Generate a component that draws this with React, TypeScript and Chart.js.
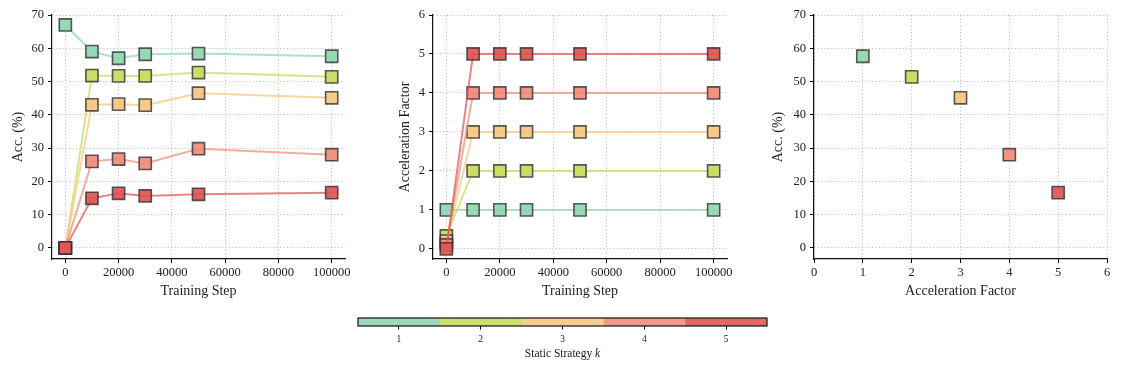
import React, { useEffect, useRef } from "react";
import { Chart, registerables } from "chart.js";

Chart.register(...registerables);

// ---------------- data ----------------
const kValues = [1, 2, 3, 4, 5];
const steps = [0, 10000, 20000, 30000, 50000, 100000];
const accK1 = [67, 59, 57, 58.2, 58.4, 57.6];
const accK2 = [0, 51.8, 51.7, 51.7, 52.7, 51.4];
const accK3 = [0, 43, 43.2, 42.9, 46.5, 45.1];
const accK4 = [0, 26, 26.7, 25.4, 29.8, 28];
const accK5 = [0, 14.9, 16.4, 15.6, 16.1, 16.6];
const accelK1 = [1, 1, 1, 1, 1, 1];
const accelK2 = [0.33, 2, 2, 2, 2, 2];
const accelK3 = [0.2, 3, 3, 3, 3, 3];
const accelK4 = [0.1, 4, 4, 4, 4, 4];
const accelK5 = [0, 5, 5, 5, 5, 5];
const finalAccel = [1, 2, 3, 4, 5];
const finalAcc = [57.6, 51.4, 45.1, 28, 16.6];
const stepTicks = [0, 20000, 40000, 60000, 80000, 100000];
const accTicks = [0, 10, 20, 30, 40, 50, 60, 70];
const accelTicks = [0, 1, 2, 3, 4, 5, 6];
const colors = ["#8fd6b0", "#c5dc5c", "#f5c67e", "#ef8c78", "#e05252"];

const accSeries = [accK1, accK2, accK3, accK4, accK5];
const accelSeries = [accelK1, accelK2, accelK3, accelK4, accelK5];

// ---------------- helpers ----------------
const SERIF = "'Liberation Serif', 'Times New Roman', serif";

function rgba(hex: string, a: number) {
  const n = parseInt(hex.slice(1), 16);
  return `rgba(${(n >> 16) & 255},${(n >> 8) & 255},${n & 255},${a})`;
}

function axis(opts: {
  min: number;
  max: number;
  ticks: number[];
  title: string;
  size: number;
  isY: boolean;
  titlePad: number;
}) {
  return {
    type: "linear",
    min: opts.min,
    max: opts.max,
    afterBuildTicks: (s: any) => {
      s.ticks = opts.ticks.map((v) => ({ value: v }));
    },
    afterFit: (s: any) => {
      if (opts.isY) s.width = opts.size;
      else s.height = opts.size;
    },
    ticks: {
      color: "#222",
      font: { family: SERIF, size: 12.5 },
      padding: opts.isY ? 4 : 2,
      maxRotation: 0,
      autoSkip: false,
      callback: (v: any) => String(v),
    },
    grid: {
      color: "rgba(175,175,175,0.85)",
      lineWidth: 0.9,
      tickColor: "#000",
      tickBorderDash: [],
      tickLength: 4,
      tickWidth: 1,
    },
    border: { display: true, color: "#111", width: 1.2, dash: [1.2, 2.2] },
    title: {
      display: true,
      text: opts.title,
      color: "#222",
      font: { family: SERIF, size: 14 },
      padding: opts.isY ? { top: opts.titlePad, bottom: 0 } : { top: 0, bottom: opts.titlePad },
    },
  };
}

function pointStyle(i: number) {
  return {
    borderColor: rgba(colors[i], 0.72),
    borderWidth: 2,
    backgroundColor: rgba(colors[i], 0.92),
    pointBackgroundColor: rgba(colors[i], 0.92),
    pointBorderColor: "rgba(45,45,45,0.78)",
    pointBorderWidth: 1.6,
    pointRadius: 8.6,
    pointHoverRadius: 8.6,
    pointStyle: "rect",
    order: 4 - i,
  };
}

function makeLineDatasets(series: number[][]) {
  return series.map((vals, i) => ({
    label: `k=${kValues[i]}`,
    data: vals.map((y, j) => ({ x: steps[j], y })),
    showLine: true,
    ...pointStyle(i),
  }));
}

const baseOptions = {
  animation: false,
  responsive: false,
  events: [],
  plugins: { legend: { display: false }, tooltip: { enabled: false } },
};

function useChart(ref: React.RefObject<HTMLCanvasElement>, build: () => any) {
  useEffect(() => {
    if (!ref.current) return;
    const c = new Chart(ref.current, build());
    return () => c.destroy();
  }, []);
}

const outline = {
  id: "outline",
  afterDraw(chart: any) {
    const { ctx, chartArea: a } = chart;
    ctx.save();
    ctx.strokeStyle = "#111";
    ctx.lineWidth = 1.2;
    ctx.strokeRect(a.left, a.top, a.right - a.left, a.bottom - a.top);
    ctx.restore();
  },
};

export default function App() {
  const r1 = useRef<HTMLCanvasElement>(null);
  const r2 = useRef<HTMLCanvasElement>(null);
  const r3 = useRef<HTMLCanvasElement>(null);
  const r4 = useRef<HTMLCanvasElement>(null);

  useChart(r1, () => ({
    type: "scatter",
    data: { datasets: makeLineDatasets(accSeries) },
    options: {
      ...baseOptions,
      layout: { padding: { left: 0, right: 25, top: 15, bottom: 0 } },
      scales: {
        x: axis({ min: -5000, max: 105000, ticks: stepTicks, title: "Training Step", size: 41, isY: false, titlePad: 0 }),
        y: axis({ min: -3.35, max: 70, ticks: accTicks, title: "Acc. (%)", size: 52, isY: true, titlePad: 10 }),
      },
    },
  }));

  useChart(r2, () => ({
    type: "scatter",
    data: { datasets: makeLineDatasets(accelSeries) },
    options: {
      ...baseOptions,
      layout: { padding: { left: 0, right: 13, top: 15, bottom: 0 } },
      scales: {
        x: axis({ min: -5000, max: 105000, ticks: stepTicks, title: "Training Step", size: 41, isY: false, titlePad: 0 }),
        y: axis({ min: -0.26, max: 6, ticks: accelTicks, title: "Acceleration Factor", size: 63, isY: true, titlePad: 27 }),
      },
    },
  }));

  useChart(r3, () => ({
    type: "scatter",
    data: {
      datasets: finalAcc.map((y, i) => ({
        label: `k=${kValues[i]}`,
        data: [{ x: finalAccel[i], y }],
        ...pointStyle(i),
      })),
    },
    options: {
      ...baseOptions,
      layout: { padding: { left: 0, right: 14, top: 15, bottom: 0 } },
      scales: {
        x: axis({ min: 0, max: 6, ticks: accelTicks, title: "Acceleration Factor", size: 41, isY: false, titlePad: 0 }),
        y: axis({ min: -3.35, max: 70, ticks: accTicks, title: "Acc. (%)", size: 64, isY: true, titlePad: 20 }),
      },
    },
  }));

  useChart(r4, () => ({
    type: "bar",
    data: {
      labels: ["k"],
      datasets: kValues.map((k, i) => ({
        label: `k=${k}`,
        data: [[k - 0.5, k + 0.5]],
        backgroundColor: rgba(colors[i], 0.88),
        borderWidth: 0,
        grouped: false,
        barPercentage: 1,
        categoryPercentage: 1,
      })),
    },
    options: {
      ...baseOptions,
      indexAxis: "y",
      layout: { padding: { left: 18, right: 13, top: 18, bottom: 0 } },
      scales: {
        y: { display: false },
        x: {
          type: "linear",
          min: 0.5,
          max: 5.5,
          afterBuildTicks: (s: any) => {
            s.ticks = kValues.map((v) => ({ value: v }));
          },
          afterFit: (s: any) => {
            s.height = 44;
          },
          ticks: {
            color: "#222",
            font: { family: SERIF, size: 9.5 },
            padding: 4,
            maxRotation: 0,
            callback: (v: any) => String(v),
          },
          grid: {
            display: true,
            drawOnChartArea: false,
            drawTicks: true,
            tickColor: "#000",
            tickLength: 3.5,
            tickWidth: 1,
          },
          border: { display: false },
        },
      },
    },
    plugins: [outline],
  }));

  const abs = (l: number, t: number, w: number, h: number): React.CSSProperties => ({
    position: "absolute",
    left: l,
    top: t,
    width: w,
    height: h,
  });

  return (
    <div style={{ position: "absolute", left: 0, top: 0, width: 1121, height: 370, background: "#fff", overflow: "hidden" }}>
      <div style={abs(0, 0, 370, 300)}>
        <canvas ref={r1} width={370} height={300} />
      </div>
      <div style={abs(370, 0, 370, 300)}>
        <canvas ref={r2} width={370} height={300} />
      </div>
      <div style={abs(750, 0, 371, 300)}>
        <canvas ref={r3} width={371} height={300} />
      </div>
      <div style={abs(340, 300, 440, 70)}>
        <canvas ref={r4} width={440} height={70} />
      </div>
      <div
        style={{
          position: "absolute",
          left: 340,
          top: 346,
          width: 445,
          textAlign: "center",
          fontFamily: SERIF,
          fontSize: 11.5,
          color: "#222",
          lineHeight: "14px",
        }}
      >
        Static Strategy <i>k</i>
      </div>
    </div>
  );
}
